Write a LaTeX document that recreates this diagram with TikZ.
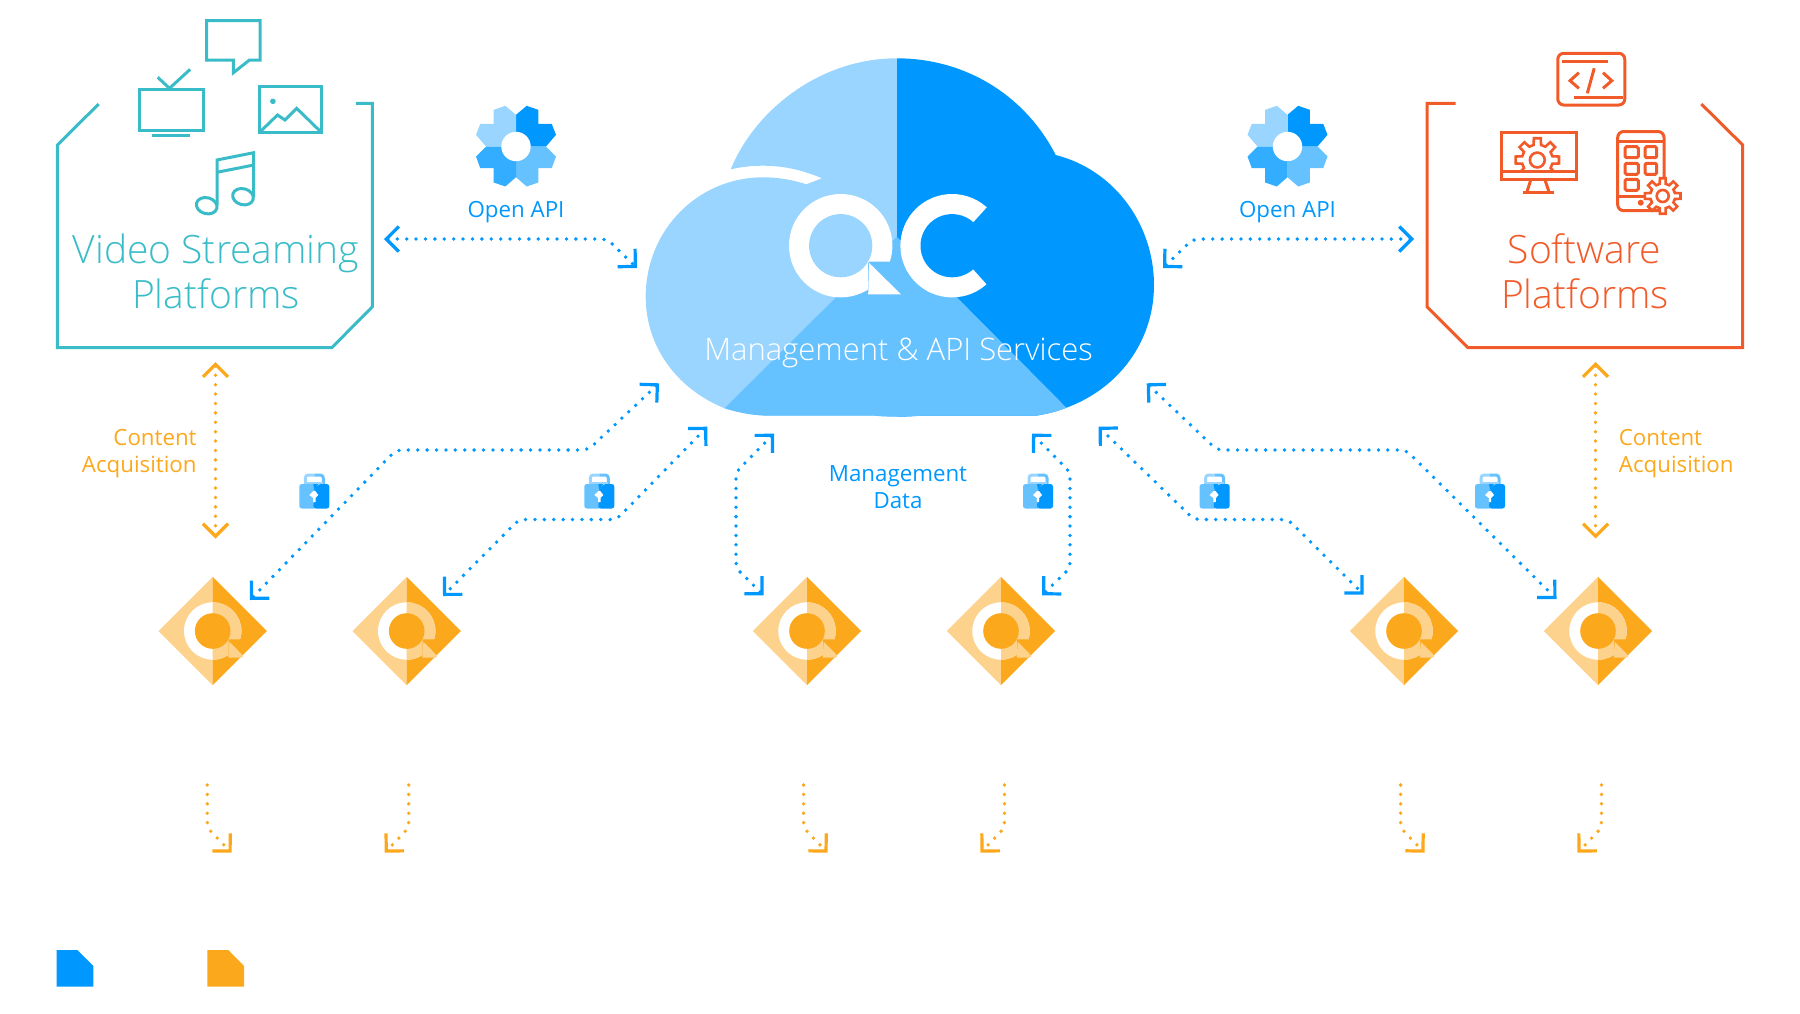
\documentclass[tikz,border=0pt]{standalone}
\usepackage{fontspec}
\setmainfont{Open Sans}
\newfontfamily\oslight{Open Sans Light}
\usetikzlibrary{arrows.meta}
\definecolor{qblue}{HTML}{0098FF}
\definecolor{qmed}{HTML}{33ADFF}
\definecolor{qmid}{HTML}{66C1FF}
\definecolor{qlight}{HTML}{99D5FF}
\definecolor{qorange}{HTML}{FCA81C}
\definecolor{qlorange}{HTML}{FCD28D}
\definecolor{qteal}{HTML}{3ABCC8}
\definecolor{qred}{HTML}{F15A29}
\tikzset{
  barb/.tip={Straight Barb[length=12.5pt,width=25pt,line width=3.2pt]},
  dotline/.style={line width=3.8pt,line cap=round,dash pattern=on 0pt off 9.4pt,rounded corners=6pt,>={barb}},
  bluecon/.style={dotline,draw=qblue},
  orangecon/.style={dotline,draw=qorange},
  tealline/.style={draw=qteal,line width=3pt},
  redline/.style={draw=qred,line width=3pt},
  biglabel/.style={font=\oslight\fontsize{39}{45}\selectfont,align=center,inner sep=0pt,anchor=base},
  bluelabel/.style={font=\fontsize{22.3}{27}\selectfont,text=qblue,inner sep=0pt,anchor=base,align=center},
  orangelabel/.style={font=\fontsize{22.3}{27}\selectfont,text=qorange,inner sep=0pt,anchor=base},
}
\newcommand{\apigear}[2]{%
  \begin{scope}[shift={(#1,#2)}]
    \fill[qblue] (0,-31.7) -- (10.7,-40.7) -- (22.3,-36.7) -- (22.3,-22.7) -- (35.7,-22.7) -- (40,-11.7) -- (30,0) -- (0,0) -- cycle;
    \fill[qlight] (0,-31.7) -- (-10.7,-40.7) -- (-22.3,-36.7) -- (-22.3,-22.7) -- (-35.7,-22.7) -- (-40,-11.7) -- (-30,0) -- (0,0) -- cycle;
    \fill[qmid] (0,30.7) -- (10.7,40) -- (22.3,36) -- (22.3,21.7) -- (35.7,21.7) -- (40,10) -- (30,0) -- (0,0) -- cycle;
    \fill[qmed] (0,30.7) -- (-10.7,40) -- (-22.3,36) -- (-22.3,21.7) -- (-35.7,21.7) -- (-40,10) -- (-30,0) -- (0,0) -- cycle;
    \fill[white] (0,0) circle[radius=14.7pt];
  \end{scope}}
\newcommand{\qlock}[1]{%
  \begin{scope}[shift={(#1,0)}]
    \draw[qlight,line width=3pt,rounded corners=3pt] (-9,486) -- (-9,475) -- (0,475);
    \draw[qmid,line width=3pt,rounded corners=3pt] (0,475) -- (9,475) -- (9,486);
    \fill[qlight] (-9,482) rectangle (9,484);
    \fill[qmid,rounded corners=2.5pt] (-15,484) rectangle (2,508.5);
    \fill[qblue,rounded corners=2.5pt] (-1,508.5) -- (15,508.5) -- (15,484) -- (4,484) -- (0,490) -- cycle;
    \fill[qblue] (-1,484) -- (4,484) -- (0,490) -- cycle;
    \fill[white] (-1,491) -- (-5,495) -- (-1.2,498) -- (-1.2,502) -- (1.2,502) -- (1.2,498) -- (4,495) -- (1,491) -- cycle;
  \end{scope}}
\newcommand{\qdiamond}[1]{%
  \begin{scope}[shift={(#1,631)}]
    \fill[qlorange] (0,-54.2) -- (-54.2,0) -- (0,54.2) -- cycle;
    \fill[qorange] (0,-54.2) -- (54.2,0) -- (0,54.2) -- cycle;
    \fill[white] (0,0) circle[radius=28.7pt];
    \begin{scope}
      \clip (0,-30) rectangle (30,30);
      \fill[qlorange] (0,0) circle[radius=28.7pt];
    \end{scope}
    \fill[qorange] (16,8.3) -- (30,8.3) -- (30,24) -- (16,27) -- cycle;
    \fill[qlorange] (16.7,10.7) -- (30.7,25) -- (28.7,26.7) -- (15.7,26.7) -- cycle;
    \fill[qorange] (0,0) circle[radius=17.8pt];
  \end{scope}}
\newcommand{\gearicon}[4]{%
  \draw[redline,fill=white,line width=2.6pt,shift={(#1,#2)}] (-14:#3)
    \foreach \a in {0,45,...,315}{ -- (\a-14:#3) -- (\a-9:#4) -- (\a+9:#4) -- (\a+14:#3) } -- cycle;
  \draw[redline,line width=2.6pt] (#1,#2) circle[radius=#3*0.48pt];}
\begin{document}
\begin{tikzpicture}[x=1pt,y=-1pt]
\useasboundingbox (0,0) rectangle (1800,1013);
% cloud
\begin{scope}
  \clip (730.7,169.3) .. controls (755,110) and (820,58.3) .. (896.8,58.3)
    .. controls (965,58.3) and (1025,95) .. (1055.7,155)
    .. controls (1115,170) and (1154,225) .. (1154,285)
    .. controls (1154,340) and (1120,388) .. (1066.4,407.7)
    .. controls (1056,412) and (1046,414) .. (1036,415.7)
    -- (920,415.7) .. controls (905,417) and (888,417) .. (875,415.7)
    -- (770,415.7) .. controls (755,415.7) and (740,413) .. (724.6,408.3)
    .. controls (675,388) and (645.7,345) .. (645.7,296.7)
    .. controls (645.7,230) and (698,177.3) .. (762.9,177.3)
    .. controls (779,177.3) and (793,180) .. (806.4,184.3)
    -- (821.8,178.3) .. controls (803,170) and (783,165.7) .. (762.9,165.7)
    .. controls (751,165.7) and (741,167) .. (730.7,169.3) -- cycle;
  \fill[qlight] (640,50) rectangle (896.8,425);
  \fill[qblue] (896.8,50) rectangle (1160,425);
  \fill[qmid] (896.8,236.7) -- (724.6,408.3) -- (724.6,425) -- (1066.4,425) -- (1066.4,407.7) -- cycle;
\end{scope}
% Q
\fill[white] (840.7,245.7) circle[radius=51.7pt];
\fill[qlight] (840.7,245.7) circle[radius=31.6pt];
\fill[qmid] (869.5,261.7) -- (896,261.7) -- (896,294.3) -- (868.2,294.3) -- (868.2,263) -- cycle;
\fill[white] (868.9,262.7) -- (901,294.3) -- (868.2,294.3) -- cycle;
% C
\fill[white] (952.1,245.7) circle[radius=51.7pt];
\fill[qblue] (952.1,245.7) circle[radius=31.6pt];
\fill[qblue] (952.1,245.7) -- (990,204) -- (1010,204) -- (1010,288) -- (990,288) -- cycle;
\node[biglabel,font=\oslight\fontsize{31}{36}\selectfont,text=white] (cloudtxt) at (898.5,360) {Management \& API Services};
% left box
\draw[tealline] (98.7,104) -- (57.4,145) -- (57.4,347.7) -- (331.8,347.7) -- (372.4,306.7) -- (372.4,103.3) -- (355.9,103.3);
\draw[tealline] (206.7,20.7) -- (260.2,20.7) -- (260.2,60) -- (249.5,60) -- (233.4,72.7) -- (233.4,60) -- (206.7,60) -- cycle;
\draw[tealline] (139,89.3) rectangle (203.5,130);
\draw[tealline] (152,135) -- (190.2,135);
\draw[tealline] (157.7,77.3) -- (169.5,88.3) -- (190.2,69.3);
\draw[tealline] (259,86) rectangle (321.9,132.7);
\fill[qteal] (272.9,101.3) circle[radius=2.8pt];
\draw[tealline] (260.2,131.7) -- (277.5,115) -- (285,120) -- (296.6,108.3) -- (320.7,131.7);
\draw[tealline] (217,205) -- (217,160) -- (253.7,152.7) -- (253.7,197);
\draw[tealline] (217,172.3) -- (253.7,165);
\draw[tealline] (206.7,205.7) ellipse[x radius=10.5pt,y radius=8pt,rotate=-15];
\draw[tealline] (243,196.7) ellipse[x radius=10.5pt,y radius=8pt,rotate=-15];
\node[biglabel,text=qteal] (video) at (216,263) {Video Streaming};
\node[biglabel,text=qteal] (videob) at (216,308) {Platforms};
% right box
\draw[redline] (1455.6,103.3) -- (1427,103.3) -- (1427,306.7) -- (1467.9,347.7) -- (1742.7,347.7) -- (1742.7,145) -- (1701.3,104);
\draw[redline,rounded corners=6pt] (1557.8,53.3) rectangle (1624.8,105);
\draw[redline] (1561.7,61) -- (1607.6,61);
\draw[redline] (1574.3,97.3) -- (1622.9,97.3);
\draw[redline] (1578.9,72.7) -- (1570,80.7) -- (1578.9,88.3);
\draw[redline] (1603,72.7) -- (1611.8,80.7) -- (1603,88.3);
\draw[redline] (1594.2,68.3) -- (1587.3,93.3);
% monitor
\draw[redline] (1501,132.5) rectangle (1576,179.3);
\begin{scope}
  \clip (1490,125) rectangle (1590,171.7);
  \gearicon{1537.3}{160}{15.5}{22}
\end{scope}
\draw[redline] (1501,171.7) -- (1576,171.7);
\draw[redline] (1530.7,180) -- (1526.7,192.7);
\draw[redline] (1545,180) -- (1549.3,192.7);
\draw[redline] (1522.7,192.7) -- (1554,192.7);
% phone
\draw[redline,rounded corners=6pt] (1617.7,131.5) rectangle (1664,210.7);
\draw[redline] (1617.7,141.7) -- (1664,141.7);
\draw[redline] (1617.7,196.7) -- (1650,196.7);
\foreach \yy in {146.7,163.3,179.3}{
  \draw[redline,rounded corners=1.5pt] (1625,\yy) rectangle (1638.3,\yy+11);
}
\foreach \yy in {146.7,163.3}{
  \draw[redline,rounded corners=1.5pt] (1645,\yy) rectangle (1656.7,\yy+11);
}
\fill[qred] (1640.7,202.7) circle[radius=3pt];
\gearicon{1662.7}{196}{12.5}{18}
\node[biglabel,text=qred] (soft) at (1584.6,263) {Software};
\node[biglabel,text=qred] (softb) at (1585,308) {Platforms};
% gears
\apigear{516}{146.5}
\apigear{1287.5}{146.5}
\node[bluelabel] (apil) at (516,217.5) {Open API};
\node[bluelabel] (apir) at (1287.5,217.5) {Open API};
% labels
\node[orangelabel,align=right,anchor=base east] (cal) at (196.8,472) {Content\hspace{4.6pt}\\Acquisition};
\node[orangelabel,align=left,anchor=base west] (car) at (1618.7,472) {Content\\Acquisition};
\node[bluelabel] (mgmt) at (898,508.6) {Management\\Data};
% locks
\qlock{314.3}\qlock{599.3}\qlock{1038}\qlock{1214.6}\qlock{1490}
% diamonds
\qdiamond{212.7}\qdiamond{406.7}\qdiamond{807}\qdiamond{1001}\qdiamond{1404}\qdiamond{1598}
% connector ends
\coordinate (tl1) at (384,239); \coordinate (tl2) at (637,268);
\coordinate (tr1) at (1414,239); \coordinate (tr2) at (1163,268);
\coordinate (cl1) at (215.5,362); \coordinate (cl2) at (215.5,538.5);
\coordinate (cr1) at (1595.5,362); \coordinate (cr2) at (1595.5,538.5);
\draw[bluecon,<->] (tl1) -- (607,239) -- (tl2);
\draw[bluecon,<->] (tr1) -- (1193,239) -- (tr2);
\draw[orangecon,<->] (cl1) -- (cl2);
\draw[orangecon,<->] (cr1) -- (cr2);
\coordinate (a1) at (659,383.3); \coordinate (a1e) at (250,600);
\coordinate (a2) at (707.3,426.7); \coordinate (a2e) at (443,596);
\coordinate (a3) at (774,433.7); \coordinate (a3e) at (763.7,595.3);
\coordinate (a4) at (1032,433.7); \coordinate (a4e) at (1042,595.3);
\coordinate (a5) at (1098.5,426.7); \coordinate (a5e) at (1363.7,594.5);
\coordinate (a6) at (1146.7,383.3); \coordinate (a6e) at (1556.5,599);
\draw[bluecon,<->] (a1) -- (588,450) -- (396,450) -- (a1e);
\draw[bluecon,<->] (a2) -- (616.5,519.5) -- (519,519.5) -- (a2e);
\draw[bluecon,<->] (a3) -- (736,472) -- (736,568) -- (a3e);
\draw[bluecon,<->] (a4) -- (1070,472) -- (1070,568) -- (a4e);
\draw[bluecon,<->] (a5) -- (1194,519.5) -- (1288,519.5) -- (a5e);
\draw[bluecon,<->] (a6) -- (1217,450) -- (1406,450) -- (a6e);
% lower arrows
\foreach \n/\xa/\xb in {1/207.3/231.7,2/408.7/384.7,3/803.6/827.6,4/1004.5/980.5,5/1400.6/1424.5,6/1601.5/1577.5}{
  \coordinate (o\n) at (\xa,785); \coordinate (oe\n) at (\xb,852.7);
  \draw[orangecon,->] (o\n) -- (\xa,828) -- (oe\n);
}
% legend
\fill[qblue] (56.7,950) -- (77.3,950) -- (93.3,966) -- (93.3,986.7) -- (56.7,986.7) -- cycle;
\fill[qorange] (207.3,950) -- (228.3,950) -- (244,966) -- (244,986.7) -- (207.3,986.7) -- cycle;
\end{tikzpicture}
\end{document}
